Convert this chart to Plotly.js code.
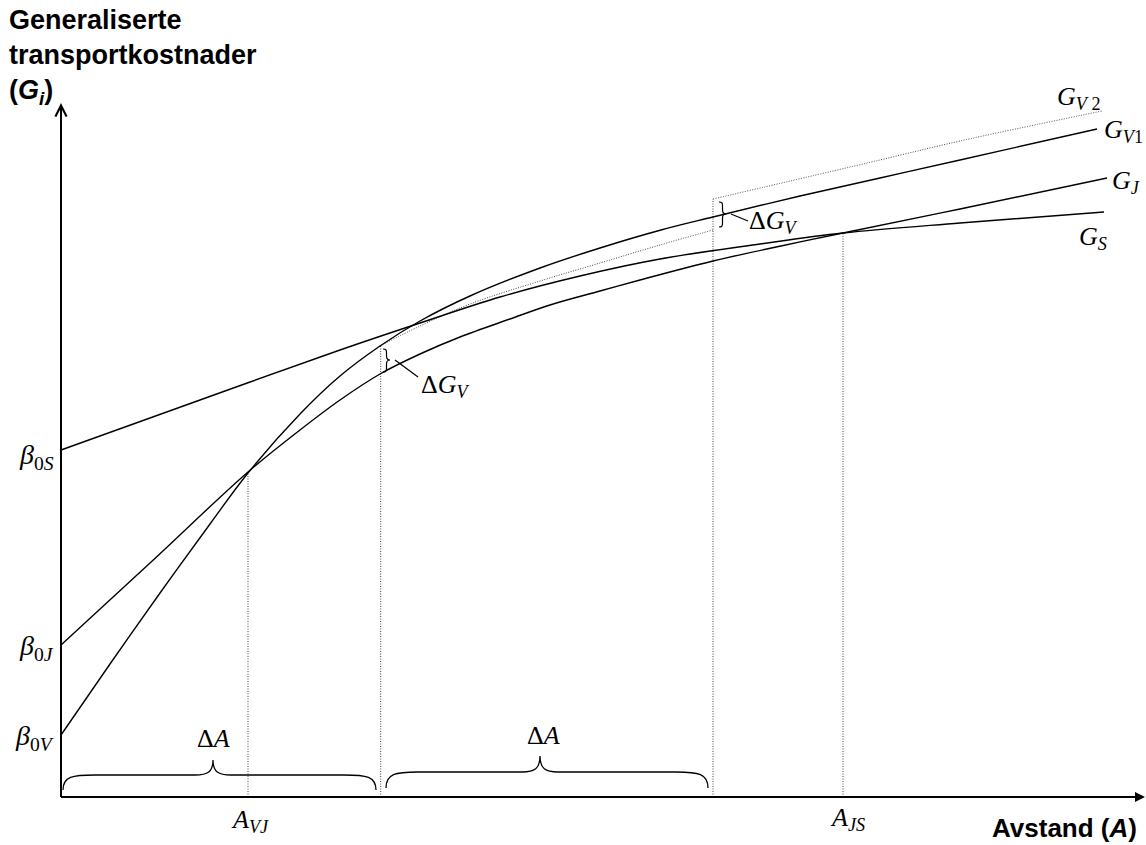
<!DOCTYPE html>
<html><head><meta charset="utf-8">
<script src="https://cdn.plot.ly/plotly-3.0.1.min.js"></script>
<style>html,body{margin:0;padding:0;background:#fff}</style>
</head><body><div id="chart" style="width:1146px;height:845px"></div>
<script>
// Curve values (x = distance A, y = generalised cost G)
const gsX  = [0, 139, 279, 359, 439, 519, 599, 699, 782, 899, 1043];
const gsY  = [347, 397, 447, 474, 500, 521, 538, 553, 564, 574, 585];
const gjX  = [0, 89, 187, 239, 279, 319, 359, 399, 449, 489, 539, 579, 652, 720, 782, 899, 1046];
const gjY  = [152, 234, 325, 367, 397, 423, 443, 460, 478, 492, 506, 517, 536, 551, 564, 588, 619];
const gv1X = [0, 49, 99, 149, 187, 239, 279, 319, 359, 409, 479, 539, 600, 652, 739, 819, 899, 1036];
const gv1Y = [62, 133, 204, 273, 324, 383, 421, 451, 476, 501, 529, 549, 567, 580, 601, 619, 637, 668];
const gv2aX = [319, 359, 409, 479, 539, 599, 652];
const gv2aY = [451, 471, 493, 516, 534, 552, 567];
const gv2bX = [652, 819, 899, 1041];
const gv2bY = [598, 637, 656, 686];
// Guide lines (x position, top value)
const dropX   = [187, 319.7, 652, 782];
const dropTop = [324, 451, 598, 564];
// Intercepts
const beta0 = {S: 347, J: 152, V: 62};

const black = '#000';
const dotCol = '#444';
const serif = 'Liberation Serif, Times New Roman, serif';
const sans = 'Liberation Sans, Arial, sans-serif';

const curve = (x, y, dash, w, col) => ({
  type: 'scatter', mode: 'lines', x: x, y: y, hoverinfo: 'skip',
  line: {color: col, width: w, dash: dash, shape: 'spline', smoothing: 1}
});

const dx = [], dy = [];
dropX.forEach((v, i) => { dx.push(v, v, null); dy.push(0, dropTop[i], null); });

const traces = [
  {type: 'scatter', mode: 'lines', x: dx, y: dy, hoverinfo: 'skip',
   line: {color: dotCol, width: 1, dash: '1px,1.5px'}},
  curve(gv2aX, gv2aY, '1px,1.5px', 1, dotCol),
  curve(gv2bX, gv2bY, '1px,1.5px', 1, dotCol),
  curve(gsX, gsY, 'solid', 1.4, black),
  curve(gjX, gjY, 'solid', 1.4, black),
  curve(gv1X, gv1Y, 'solid', 1.4, black)
];

// curly brace path in local (u along, v across) coordinates, mapped to data
function brace(u1, u2, um, vEnd, vMid, vTip, rEnd, rTip, map) {
  const P = (u, v) => { const p = map(u, v); return p[0] + ',' + p[1]; };
  const dv = vMid - vEnd, tv = vTip - vMid;
  return 'M' + P(u1, vEnd) +
    ' C' + P(u1, vEnd + dv * 0.9) + ' ' + P(u1 + rEnd * 0.3, vMid) + ' ' + P(u1 + rEnd, vMid) +
    ' L' + P(um - rTip, vMid) +
    ' C' + P(um - rTip * 0.3, vMid) + ' ' + P(um, vMid + tv * 0.2) + ' ' + P(um, vTip) +
    ' C' + P(um, vMid + tv * 0.2) + ' ' + P(um + rTip * 0.3, vMid) + ' ' + P(um + rTip, vMid) +
    ' L' + P(u2 - rEnd, vMid) +
    ' C' + P(u2 - rEnd * 0.3, vMid) + ' ' + P(u2, vEnd + dv * 0.9) + ' ' + P(u2, vEnd);
}
const H = (u, v) => [u, v];
const V = (u, v) => [v, u];

const shapes = [
  {type: 'line', xref: 'x', yref: 'y', x0: 0, y0: 0, x1: 1078, y1: 0, line: {color: black, width: 2}},
  {type: 'line', xref: 'x', yref: 'y', x0: 0, y0: 0, x1: 0, y1: 690, line: {color: black, width: 2}},
  {type: 'path', xref: 'x', yref: 'y', path: brace(2, 315, 152, 7, 22, 37, 32, 18, H), line: {color: black, width: 1.3}},
  {type: 'path', xref: 'x', yref: 'y', path: brace(325, 647, 479, 9, 25, 41, 32, 18, H), line: {color: black, width: 1.3}},
  {type: 'path', xref: 'x', yref: 'y', path: brace(425, 448, 437, 322, 325.5, 329, 4, 4, V), line: {color: black, width: 1.2}},
  {type: 'path', xref: 'x', yref: 'y', path: brace(570, 595, 583, 658, 661.5, 665, 4, 4, V), line: {color: black, width: 1.2}},
  {type: 'line', xref: 'x', yref: 'y', x0: 334, y0: 437, x1: 357, y1: 420, line: {color: black, width: 1.2}},
  {type: 'line', xref: 'x', yref: 'y', x0: 670, y0: 583, x1: 687, y1: 576, line: {color: black, width: 1.2}}
];

const lab = (x, y, text, xa, size, fam) => ({
  xref: 'x', yref: 'y', x: x, y: y, text: text, showarrow: false,
  xanchor: xa || 'center', yanchor: 'middle',
  font: {family: fam || serif, size: size || 26, color: black}
});

const annotations = [
  // axis arrowheads
  {xref: 'x', yref: 'y', axref: 'x', ayref: 'y', x: 1084, y: 0, ax: 1060, ay: 0, text: '',
   showarrow: true, arrowhead: 2, arrowsize: 1, arrowwidth: 2, arrowcolor: black, standoff: 0},
  {xref: 'x', yref: 'y', axref: 'x', ayref: 'y', x: 0, y: 694, ax: 0, ay: 670, text: '',
   showarrow: true, arrowhead: 5, arrowsize: 1.1, arrowwidth: 2, arrowcolor: black, standoff: 0},
  // axis titles
  {xref: 'paper', yref: 'paper', x: 7 / 1146, y: 1 - 3 / 845, xanchor: 'left', yanchor: 'top', align: 'left',
   showarrow: false, text: '<b>Generaliserte<br>transportkostnader<br>(<i>G<sub>i</sub></i>)</b>',
   font: {family: sans, size: 27, color: black}},
  {xref: 'x', yref: 'y', x: 1078, y: -31, xanchor: 'right', yanchor: 'middle', showarrow: false,
   text: '<b>Avstand (<i>A</i>)</b>', font: {family: sans, size: 26, color: black}},
  // intercept labels
  lab(-5, beta0.S - 6, '<i>β</i><sub>0<i>S</i></sub>', 'right', 28),
  lab(-5, beta0.J - 2, '<i>β</i><sub>0<i>J</i></sub>', 'right', 28),
  lab(-5, beta0.V - 2, '<i>β</i><sub>0<i>V</i></sub>', 'right', 28),
  // curve labels
  lab(994, 699, '<i>G</i><sub><i>V</i> 2</sub>', 'left'),
  lab(1041, 666, '<i>G</i><sub><i>V</i>1</sub>', 'left'),
  lab(1049, 615, '<i>G</i><sub><i>J</i></sub>', 'left'),
  lab(1016, 559, '<i>G</i><sub><i>S</i></sub>', 'left'),
  // delta labels
  lab(384, 411, 'Δ<i>G</i><sub><i>V</i></sub>'),
  lab(712, 575, 'Δ<i>G</i><sub><i>V</i></sub>'),
  lab(152, 59, 'Δ<i>A</i>'),
  lab(482, 62, 'Δ<i>A</i>'),
  // A labels
  lab(dropX[0] + 2, -24, '<i>A</i><sub><i>VJ</i></sub>'),
  lab(dropX[3] + 4, -22, '<i>A</i><sub><i>JS</i></sub>')
];

const layout = {
  width: 1146, height: 845,
  margin: {l: 0, r: 0, t: 0, b: 0},
  paper_bgcolor: '#fff', plot_bgcolor: '#fff',
  showlegend: false,
  xaxis: {range: [-61, 1085], visible: false, fixedrange: true},
  yaxis: {range: [-48, 797], visible: false, fixedrange: true},
  shapes: shapes,
  annotations: annotations
};

Plotly.newPlot('chart', traces, layout, {staticPlot: true, displayModeBar: false});
</script>
</body></html>
